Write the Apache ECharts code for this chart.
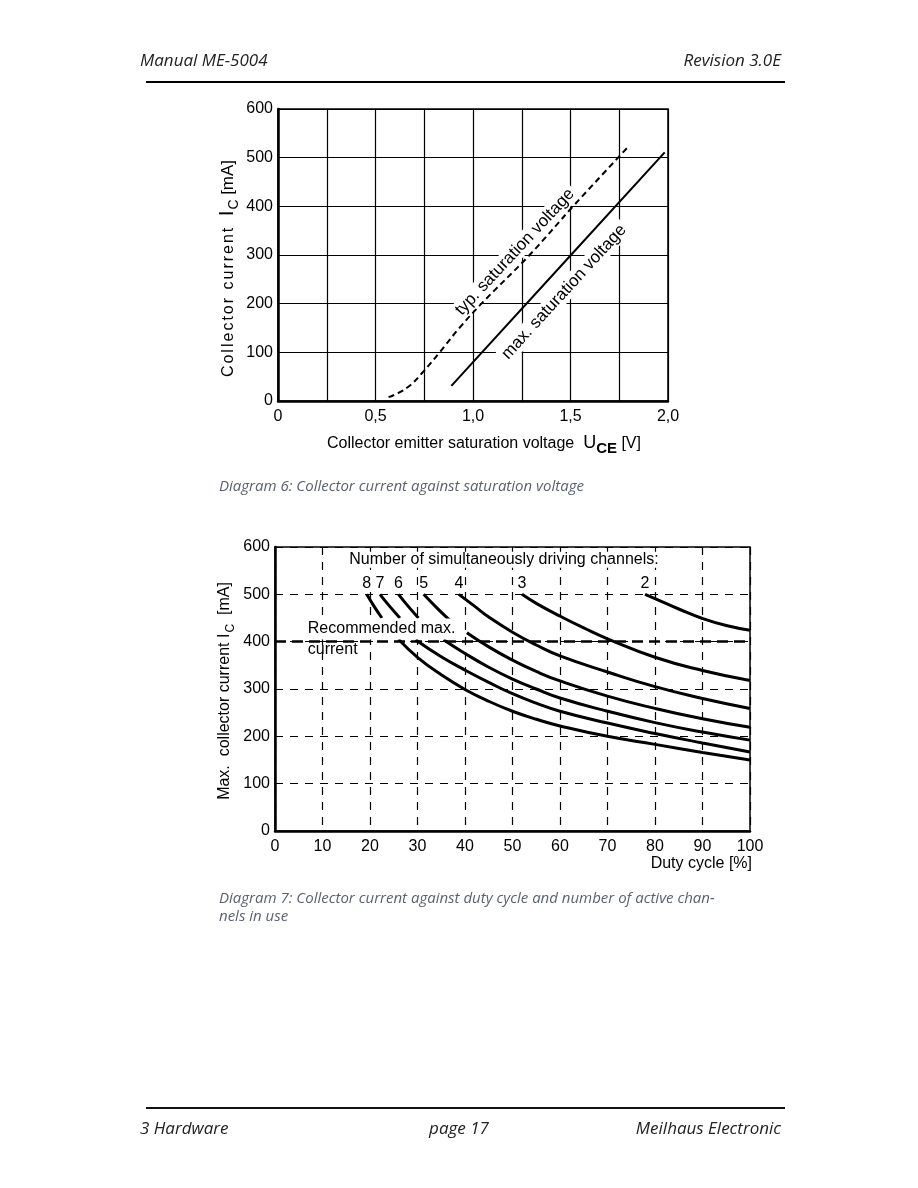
<!DOCTYPE html>
<html><head><meta charset="utf-8">
<script src="https://cdn.jsdelivr.net/npm/echarts@6/dist/echarts.min.js"></script>
<style>html,body{margin:0;padding:0;background:#fff}#c{width:918px;height:1188px}</style>
</head><body><div id="c"></div>
<script>
// ---------- Diagram 6 data ----------
const typVoltage = [0.567, 0.62, 0.68, 0.74, 0.829, 0.93, 1.043, 1.29, 1.513, 1.744, 1.795];
const typCurrent = [8, 17, 33, 58, 100, 150, 200, 300, 400, 500, 522];
const maxVoltage = [0.889, 1.5, 1.983];
const maxCurrent = [31, 299, 511];
const voltageTickLabels = ['0', '0,5', '1,0', '1,5', '2,0'];
const currentTicks1 = [0, 100, 200, 300, 400, 500, 600];

// ---------- Diagram 7 data ----------
const channelNames = ['8', '7', '6', '5', '4', '3', '2'];
const c8Duty = [19.3, 20.9, 22.5, 24, 26, 30, 35, 40, 45, 50, 55, 60, 70, 80, 90, 100];
const c8Current = [500, 474, 450, null, 405, 367, 330, 299, 274, 253, 236, 222, 200, 183, 166, 150];
const c7Duty = [22.1, 24.2, 26.3, 28, 29.6, 35, 40, 45, 50, 55, 60, 70, 80, 90, 100];
const c7Current = [500, 474, 450, null, 404, 368, 340, 314, 290, 270, 253, 228, 206, 186, 167];
const c6Duty = [26, 28.1, 30.2, 33, 35.5, 40, 45, 50, 55, 60, 70, 80, 90, 100];
const c6Current = [500, 474, 450, null, 404, 375, 346, 321, 300, 281, 253, 229, 209, 192];
const c5Duty = [31.3, 34.6, 38, 39, 40.4, 45, 50, 55, 60, 70, 80, 90, 100];
const c5Current = [500, 466, 434, null, 419, 389, 361, 337, 317, 285, 259, 237, 219];
const c4Duty = [38.7, 42, 45, 50, 55, 60, 70, 80, 90, 100];
const c4Current = [500, 475, 452, 420, 393, 370, 336, 305, 280, 259];
const c3Duty = [52, 55, 60, 65, 70, 80, 90, 100];
const c3Current = [500, 481, 454, 429, 406, 367, 339, 318];
const c2Duty = [77.9, 80, 85, 90, 95, 100];
const c2Current = [500, 491, 469, 449, 434, 424];
const channelDuties = [c8Duty, c7Duty, c6Duty, c5Duty, c4Duty, c3Duty, c2Duty];
const channelCurrents = [c8Current, c7Current, c6Current, c5Current, c4Current, c3Current, c2Current];
const recommendedMax = 400;

const FONT = '"Liberation Sans", Arial, sans-serif';
const PAGEFONT = '"Open Sans", "DejaVu Sans", sans-serif';

const zip = (xs, ys) => xs.map((x, i) => [x, ys[i] === null ? '-' : ys[i]]);

const chart = echarts.init(document.getElementById('c'), null, {renderer: 'canvas'});

function channelSeries(xs, ys) {
  return {
    type: 'line', xAxisIndex: 1, yAxisIndex: 1, data: zip(xs, ys), smooth: 0.5,
    symbol: 'none', connectNulls: false,
    lineStyle: {color: '#000', width: 3}, silent: true, z: 5
  };
}

const channelSeriesList = channelDuties.map((d, i) => channelSeries(d, channelCurrents[i]));
channelSeriesList[channelSeriesList.length - 1].markLine = {
  silent: true, symbol: 'none', label: {show: false},
  lineStyle: {color: '#000', width: 2.5, type: [11, 6]}, data: [{yAxis: recommendedMax}]
};

const option = {
  backgroundColor: '#fff',
  animation: false,
  grid: [
    {left: 278, top: 109, width: 390, height: 292, show: true, borderColor: '#000', borderWidth: 1.5, backgroundColor: 'transparent'},
    {left: 275, top: 547, width: 475, height: 284, show: true, borderColor: '#000', borderWidth: 1.5, backgroundColor: 'transparent'}
  ],
  xAxis: [
    {type: 'value', gridIndex: 0, min: 0, max: 2, interval: 0.25,
     axisLine: {lineStyle: {color: '#000', width: 2.5}}, axisTick: {show: false},
     axisLabel: {margin: 8, fontSize: 16, color: '#000', fontFamily: FONT,
       formatter: v => { const k = Math.round(v / 0.5); return Math.abs(k * 0.5 - v) < 1e-6 ? voltageTickLabels[k] : ''; }},
     splitLine: {show: true, lineStyle: {color: '#000', width: 1.2}}},
    {type: 'value', gridIndex: 1, min: 0, max: 100, interval: 10,
     axisLine: {lineStyle: {color: '#000', width: 2.5}}, axisTick: {show: false},
     axisLabel: {margin: 8, fontSize: 16, color: '#000', fontFamily: FONT},
     splitLine: {show: true, lineStyle: {color: '#000', width: 1.2, type: [8, 7]}}}
  ],
  yAxis: [
    {type: 'value', gridIndex: 0, min: currentTicks1[0], max: currentTicks1[currentTicks1.length - 1], interval: 100,
     axisLine: {show: true, lineStyle: {color: '#000', width: 2.5}}, axisTick: {show: false},
     axisLabel: {margin: 5, fontSize: 16, color: '#000', fontFamily: FONT},
     splitLine: {show: true, lineStyle: {color: '#000', width: 1.2}}},
    {type: 'value', gridIndex: 1, min: 0, max: 600, interval: 100,
     axisLine: {show: true, lineStyle: {color: '#000', width: 2.5}}, axisTick: {show: false},
     axisLabel: {margin: 5, fontSize: 16, color: '#000', fontFamily: FONT},
     splitLine: {show: true, lineStyle: {color: '#000', width: 1.2, type: [8, 7]}}}
  ],
  series: [
    {type: 'line', xAxisIndex: 0, yAxisIndex: 0, data: zip(typVoltage, typCurrent), smooth: 0.4,
     symbol: 'none', lineStyle: {color: '#000', width: 2, type: [6, 4]}, silent: true},
    {type: 'line', xAxisIndex: 0, yAxisIndex: 0, data: zip(maxVoltage, maxCurrent), smooth: false,
     symbol: 'none', lineStyle: {color: '#000', width: 2}, silent: true},
    ...channelSeriesList,
    {type: 'scatter', xAxisIndex: 1, yAxisIndex: 1, silent: true, symbol: 'circle', symbolSize: 0.01,
     itemStyle: {color: '#000', opacity: 1}, z: 6,
     data: channelNames.map((n, i) => ({value: [channelDuties[i][0], channelCurrents[i][0]], name: n})),
     label: {show: true, position: 'top', distance: 3, formatter: p => p.name, opacity: 1,
       fontSize: 16, color: '#000', fontFamily: FONT, backgroundColor: '#fff', padding: [0, 1]}}
  ]
};
chart.setOption(option);

const p0 = v => chart.convertToPixel({gridIndex: 0}, v);
const p1 = v => chart.convertToPixel({gridIndex: 1}, v);

function txt(x, y, text, opts) {
  opts = opts || {};
  return {
    type: 'text', x: x, y: y, rotation: opts.rotation || 0, z: 100,
    style: Object.assign({
      text: text, fill: opts.fill || '#000',
      font: opts.font || ('16px ' + FONT),
      align: opts.align || 'left', verticalAlign: opts.verticalAlign || 'middle'
    }, opts.style || {})
  };
}

const spaced = 'Collector current'.split('').map(ch => '{g|' + ch + '}').join('');
const typPos = p0([1.215, 306]);
const maxPos = p0([1.467, 224]);
const titlePos = p1([48.2, 573]);
const recPos = p1([6.9, 427]);
const curPos = p1([6.9, 391]);
const g1 = chart.getModel().getComponent('grid', 0).coordinateSystem.getRect();
const g2 = chart.getModel().getComponent('grid', 1).coordinateSystem.getRect();

const graphics = [
  // page header / footer
  txt(140, 61, 'Manual ME-5004', {font: 'italic 17px ' + PAGEFONT, fill: '#222'}),
  txt(781, 61, 'Revision 3.0E', {font: 'italic 17px ' + PAGEFONT, fill: '#222', align: 'right'}),
  {type: 'line', shape: {x1: 146, y1: 82, x2: 785, y2: 82}, style: {stroke: '#000', lineWidth: 2}},
  {type: 'line', shape: {x1: 146, y1: 1108, x2: 785, y2: 1108}, style: {stroke: '#111', lineWidth: 2}},
  txt(140, 1129, '3 Hardware', {font: 'italic 17px ' + PAGEFONT, fill: '#222'}),
  txt(459, 1129, 'page 17', {font: 'italic 17px ' + PAGEFONT, fill: '#222', align: 'center'}),
  txt(781, 1129, 'Meilhaus Electronic', {font: 'italic 17px ' + PAGEFONT, fill: '#222', align: 'right'}),
  // captions
  txt(219, 487, 'Diagram 6: Collector current against saturation voltage', {font: 'italic 15px ' + PAGEFONT, fill: '#5a6272'}),
  txt(219, 899, 'Diagram 7: Collector current against duty cycle and number of active chan-', {font: 'italic 15px ' + PAGEFONT, fill: '#5a6272'}),
  txt(219, 917, 'nels in use', {font: 'italic 15px ' + PAGEFONT, fill: '#5a6272'}),
  // Diagram 6 annotations
  txt(typPos[0], typPos[1], 'typ. saturation voltage', {align: 'center', rotation: 47 * Math.PI / 180,
    font: '17px ' + FONT, style: {backgroundColor: '#fff', padding: [1, 3]}}),
  txt(maxPos[0], maxPos[1], 'max. saturation voltage', {align: 'center', rotation: 47.5 * Math.PI / 180,
    font: '17px ' + FONT, style: {backgroundColor: '#fff', padding: [1, 3]}}),
  // Diagram 6 axis names
  txt(229, g1.y + g1.height / 2 + 14, spaced + '{sp| }{I|I}{sub|C}{sp| }{n|[mA]}', {align: 'center', rotation: Math.PI / 2,
    style: {rich: {
      g: {fontSize: 16, fontFamily: FONT, padding: [0, 1, 4, 1], verticalAlign: 'bottom'},
      sp: {fontSize: 16, fontFamily: FONT, padding: [0, 0, 4, 0], verticalAlign: 'bottom'},
      I: {fontSize: 21, fontFamily: FONT, padding: [0, 0, 3, 6], verticalAlign: 'bottom'},
      sub: {fontSize: 14, fontFamily: FONT, padding: [0, 0, 0, 1], verticalAlign: 'bottom'},
      n: {fontSize: 17, fontFamily: FONT, padding: [0, 0, 4, 0], verticalAlign: 'bottom'}
    }}}),
  txt(484, 445, '{n|Collector emitter saturation voltage  }{U|U}{sub|CE}{n| [V]}', {align: 'center',
    style: {rich: {
      n: {fontSize: 16, fontFamily: FONT, padding: [0, 0, 4, 0], verticalAlign: 'bottom'},
      U: {fontSize: 18, fontFamily: FONT, padding: [0, 0, 4, 0], verticalAlign: 'bottom'},
      sub: {fontSize: 15, fontFamily: FONT, fontWeight: 'bold', verticalAlign: 'bottom'}
    }}}),
  // Diagram 7 annotations
  txt(titlePos[0], titlePos[1], 'Number of simultaneously driving channels:', {align: 'center',
    style: {backgroundColor: '#fff', padding: [0, 2]}}),
  txt(recPos[0] - 2, recPos[1], 'Recommended max.', {style: {backgroundColor: '#fff', padding: [2, 3, 3, 2]}}),
  txt(curPos[0], curPos[1] + 4, 'current', {}),
  txt(227, g2.y + g2.height / 2 + 2, '{n|Max.  collector current I}{sub|C}{n|  [mA]}', {align: 'center', rotation: Math.PI / 2,
    style: {rich: {
      n: {fontSize: 16, fontFamily: FONT, padding: [0, 0, 4, 0], verticalAlign: 'bottom'},
      sub: {fontSize: 12, fontFamily: FONT, padding: [0, 0, 0, 1], verticalAlign: 'bottom'}
    }}}),
  txt(g2.x + g2.width + 2, 864, 'Duty cycle [%]', {align: 'right'})
];
chart.setOption({graphic: graphics});
</script>
</body></html>
